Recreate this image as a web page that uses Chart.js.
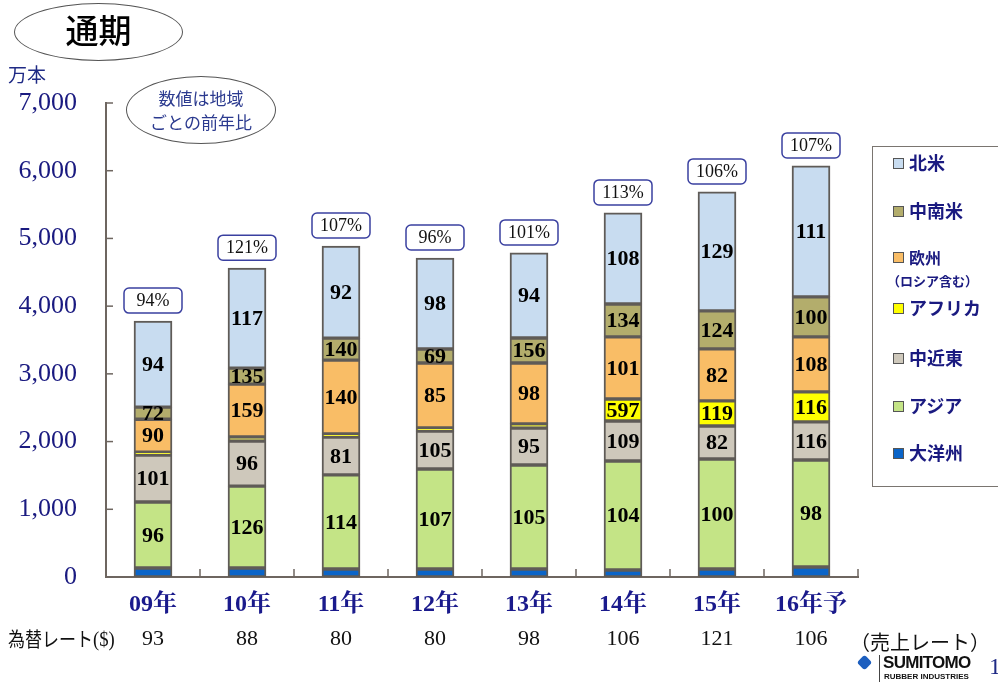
<!DOCTYPE html>
<html><head><meta charset="utf-8">
<script src="https://cdn.jsdelivr.net/npm/chart.js@4"></script>
<style>
html,body{margin:0;padding:0;background:#fff;overflow:hidden;width:998px;height:689px;}
#wrap{position:relative;width:998px;height:689px;}
canvas{position:absolute;left:0;top:0;}
.ov{position:absolute;white-space:nowrap;}
.ell{position:absolute;border:1.5px solid #555;border-radius:50%;box-sizing:border-box;}
#legend{position:absolute;left:872px;top:146px;width:140px;height:341px;border:1.5px solid #7a7570;box-sizing:border-box;}
.li{position:absolute;left:20px;font-family:"Noto Sans CJK JP","Noto Sans",sans-serif;font-weight:bold;color:#1a1a80;font-size:18px;line-height:20px;}
.sq{display:inline-block;width:9px;height:9px;border:1.5px solid #555;margin-right:5px;vertical-align:1px;}
</style></head>
<body><div id="wrap">
<canvas id="c" width="998" height="689"></canvas>
<div class="ell" style="left:14px;top:3px;width:169px;height:58px;"></div>
<div class="ov" style="left:14px;top:8px;width:169px;text-align:center;font-family:'Noto Sans CJK JP',sans-serif;font-weight:500;font-size:33px;line-height:42px;color:#000;">通期</div>
<div class="ov" style="left:8px;top:60px;font-family:'Noto Sans CJK JP',sans-serif;font-size:19px;color:#1f2a85;">万本</div>
<div class="ell" style="left:126px;top:76px;width:150px;height:68px;"></div>
<div class="ov" style="left:126px;top:86px;width:150px;text-align:center;font-family:'Noto Sans CJK JP',sans-serif;font-size:17px;line-height:24px;color:#2b3a8f;">数値は地域<br>ごとの前年比</div>
<div id="legend"></div>
<div class="ov" style="left:850px;top:627px;font-family:'Noto Sans CJK JP',sans-serif;font-size:20px;color:#111;">（売上レート）</div>
<div class="ov" style="left:859px;top:657px;width:11px;height:11px;background:#1d5fbf;transform:rotate(45deg);border-radius:3px;"></div>
<div class="ov" style="left:879px;top:655px;width:1px;height:27px;background:#444;"></div>
<div class="ov" style="left:883px;top:654px;font-family:'Liberation Sans',sans-serif;font-weight:bold;font-size:17px;line-height:18px;color:#111;letter-spacing:-0.7px;">SUMITOMO</div>
<div class="ov" style="left:884px;top:672px;font-family:'Liberation Sans',sans-serif;font-weight:bold;font-size:8px;line-height:10px;color:#111;">RUBBER INDUSTRIES</div>
<div class="ov" style="left:989px;top:653px;font-family:'Liberation Serif',serif;font-size:24px;color:#1f2a85;">1</div>
</div>
<script>
const categories = ['09年','10年','11年','12年','13年','14年','15年','16年予'];
const rates = ['93','88','80','80','98','106','121','106'];
const yTicks = [0,1000,2000,3000,4000,5000,6000,7000];

const oceania      = [133,133,118,118,118,103,118,148];
const asia         = [975,1210,1390,1477,1536,1610,1625,1580];
const middleEast   = [694,665,560,560,547,591,487,562];
const africa       = [40,60,45,45,60,325,370,443];
const europe       = [487,780,1090,960,900,916,768,812];
const latinAmerica = [180,236,325,207,369,487,561,591];
const northAmerica = [1270,1477,1360,1344,1256,1345,1758,1935];

const oceaniaPct      = ['','','','','','','',''];
const asiaPct         = ['96','126','114','107','105','104','100','98'];
const middleEastPct   = ['101','96','81','105','95','109','82','116'];
const africaPct       = ['','','','','','597','119','116'];
const europePct       = ['90','159','140','85','98','101','82','108'];
const latinAmericaPct = ['72','135','140','69','156','134','124','100'];
const northAmericaPct = ['94','117','92','98','94','108','129','111'];
const totalPct = ['94%','121%','107%','96%','101%','113%','106%','107%'];

const series = [
  {name:'大洋州', data:oceania, pct:oceaniaPct, color:'#0a64c8'},
  {name:'アジア', data:asia, pct:asiaPct, color:'#c4e486'},
  {name:'中近東', data:middleEast, pct:middleEastPct, color:'#cec8bb'},
  {name:'アフリカ', data:africa, pct:africaPct, color:'#ffff00'},
  {name:'欧州', data:europe, pct:europePct, color:'#f9bd66'},
  {name:'中南米', data:latinAmerica, pct:latinAmericaPct, color:'#b3ad6c'},
  {name:'北米', data:northAmerica, pct:northAmericaPct, color:'#c8dcf0'}
];

// legend (HTML)
const legendItems = [
  {t:'北米', c:'#c8dcf0', y:5},
  {t:'中南米', c:'#b3ad6c', y:53},
  {t:'欧州', c:'#f9bd66', y:100, sub:'（ロシア含む）'},
  {t:'アフリカ', c:'#ffff00', y:150},
  {t:'中近東', c:'#cec8bb', y:200},
  {t:'アジア', c:'#c4e486', y:248},
  {t:'大洋州', c:'#0a64c8', y:295}
];
const lg = document.getElementById('legend');
legendItems.forEach(it=>{
  const d=document.createElement('div');d.className='li';d.style.top=it.y+'px';
  if(it.sub){d.style.fontSize='16px';}
  d.innerHTML='<span class="sq" style="background:'+it.c+'"></span>'+it.t;
  lg.appendChild(d);
  if(it.sub){const s=document.createElement('div');s.className='li';s.style.top=(it.y+24)+'px';s.style.left='14px';s.style.fontSize='13px';s.textContent=it.sub;lg.appendChild(s);}
});

const AXIS='#6e6660';
const drawPlugin = {
  id:'custom',
  afterDatasetsDraw(chart){
    const ctx=chart.ctx, x=chart.scales.x, y=chart.scales.y, ca=chart.chartArea;
    ctx.save();
    // axis tick marks (inward)
    ctx.strokeStyle=AXIS;ctx.lineWidth=1.5;
    yTicks.forEach(v=>{const py=y.getPixelForValue(v);ctx.beginPath();ctx.moveTo(ca.left,py);ctx.lineTo(ca.left+7,py);ctx.stroke();});
    const step=x.getPixelForValue(1)-x.getPixelForValue(0);
    for(let i=1;i<=categories.length;i++){
      const px = i<categories.length ? x.getPixelForValue(i)-step/2 : ca.right;
      ctx.beginPath();ctx.moveTo(px,ca.bottom);ctx.lineTo(px,ca.bottom-8);ctx.stroke();
    }
    // segment labels
    ctx.fillStyle='#000';ctx.textAlign='center';ctx.textBaseline='middle';
    ctx.font='bold 22px "Liberation Serif", serif';
    series.forEach((s,di)=>{
      const meta=chart.getDatasetMeta(di);
      meta.data.forEach((el,i)=>{
        const t=s.pct[i]; if(!t) return;
        ctx.fillText(t, el.x, (el.y+el.base)/2+1);
      });
    });
    // total boxes
    const top=chart.getDatasetMeta(series.length-1);
    ctx.font='18px "Liberation Serif", serif';
    top.data.forEach((el,i)=>{
      const w=58,h=25,bx=el.x-w/2,by=el.y-8-h;
      ctx.beginPath();ctx.roundRect(bx,by,w,h,5);
      ctx.fillStyle='#fff';ctx.fill();ctx.strokeStyle='#3a40a0';ctx.lineWidth=1.5;ctx.stroke();
      ctx.fillStyle='#111';ctx.fillText(totalPct[i], el.x, by+h/2+1);
    });
    // x labels and rates
    categories.forEach((c,i)=>{
      const px=x.getPixelForValue(i);
      ctx.font='bold 24px "Liberation Serif", "Noto Serif CJK JP", serif';
      ctx.fillStyle='#1a1a8c';ctx.fillText(c, px, 605);
      ctx.font='22px "Liberation Serif", serif';
      ctx.fillStyle='#111';ctx.fillText(rates[i], px, 639);
    });
    ctx.textAlign='left';
    ctx.fillStyle='#111';
    ctx.save();ctx.translate(8,639);ctx.scale(0.85,1);
    ctx.font='20px "Noto Sans CJK JP", sans-serif';
    ctx.fillText('為替レート',0,0);
    const w1=ctx.measureText('為替レート').width;
    ctx.font='22px "Liberation Serif", serif';
    ctx.fillText('($)',w1,1);
    ctx.restore();
    ctx.restore();
  }
};

new Chart(document.getElementById('c'),{
  type:'bar',
  data:{labels:categories, datasets:series.map(s=>({label:s.name,data:s.data,backgroundColor:s.color,borderColor:'#5f5b57',borderWidth:2,borderSkipped:false,barThickness:38}))},
  options:{
    responsive:false,animation:false,devicePixelRatio:1,
    layout:{padding:{top:103,right:140,left:0,bottom:0}},
    plugins:{legend:{display:false},tooltip:{enabled:false}},
    scales:{
      x:{stacked:true,grid:{display:false},border:{color:AXIS,width:2},ticks:{display:false},afterFit(s){s.height=112;}},
      y:{stacked:true,min:0,max:7000,afterFit(s){s.width=106;},
         afterBuildTicks(s){s.ticks=yTicks.map(v=>({value:v}));},
         grid:{display:false},border:{color:AXIS,width:2},
         ticks:{color:'#1a1a80',padding:21,font:{family:'"Liberation Serif", serif',size:26},
           callback:v=>v.toLocaleString('en-US')}}
    }
  },
  plugins:[drawPlugin]
});
</script>
</body></html>
